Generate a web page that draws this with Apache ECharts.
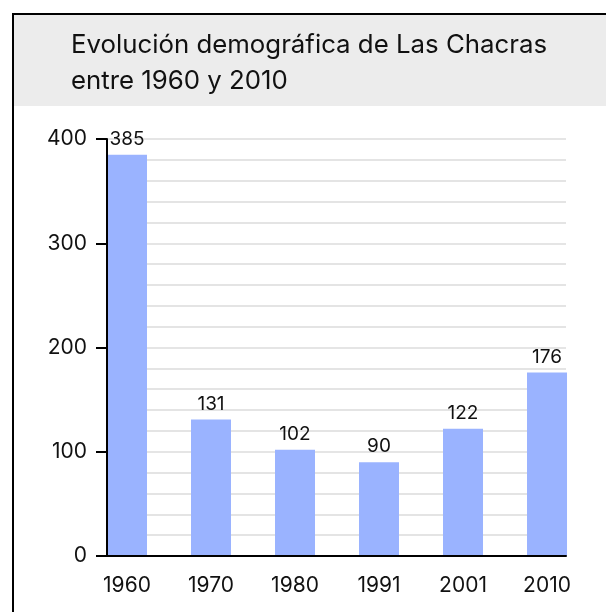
<!DOCTYPE html>
<html><head><meta charset="utf-8">
<script src="https://cdn.jsdelivr.net/npm/echarts@6/dist/echarts.min.js"></script>
<style>html,body{margin:0;padding:0;background:#fff}#c{width:606px;height:612px}</style>
</head><body><div id="c"></div>
<script>
const categories = ['1960','1970','1980','1991','2001','2010'];
const values = [385, 131, 102, 90, 122, 176];
const yTicks = [0, 100, 200, 300, 400];
const titleLines = ['Evolución demográfica de Las Chacras', 'entre 1960 y 2010'];

const font = 'Inter, "Noto Sans", sans-serif';
const chart = echarts.init(document.getElementById('c'), null, {renderer: 'canvas'});
chart.setOption({
  animation: false,
  backgroundColor: '#fff',
  graphic: [
    {type: 'rect', shape: {x: 13, y: 14, width: 700, height: 92}, style: {fill: '#ececec'}, z: -10},
    {type: 'rect', shape: {x: 13, y: 14, width: 700, height: 700}, style: {fill: null, stroke: '#000', lineWidth: 2}, z: 10},
    {type: 'text', left: 71, top: 27, style: {text: titleLines.join('\n'), font: '25.8px ' + font, fill: '#111', lineHeight: 36}}
  ],
  grid: {left: 107, right: 40, top: 139, bottom: 56},
  xAxis: {
    type: 'value', min: -0.238, max: 5.226, z: 5,
    axisLine: {show: true, onZero: false, lineStyle: {color: '#000', width: 2}},
    axisTick: {show: false},
    splitLine: {show: false},
    axisLabel: {customValues: [0,1,2,3,4,5], formatter: v => categories[Math.round(v)], fontSize: 21, color: '#111', fontFamily: font, margin: 19}
  },
  yAxis: [{
    type: 'value', min: 0, max: 400, interval: 100,
    axisLine: {show: false},
    axisTick: {show: false},
    axisLabel: {fontSize: 21, color: '#111', fontFamily: font, margin: 20},
    splitLine: {show: true, lineStyle: {color: '#dcdcdc', width: 1.5}},
    minorTick: {show: false, splitNumber: 5},
    minorSplitLine: {show: true, lineStyle: {color: '#dcdcdc', width: 1.5}}
  }, {
    type: 'value', min: 0, max: 400, interval: 100, position: 'left', offset: 0, z: 5,
    axisLine: {show: true, onZero: false, lineStyle: {color: '#000', width: 2}},
    axisTick: {show: true, inside: false, length: 11, lineStyle: {color: '#000', width: 2}},
    axisLabel: {show: false},
    splitLine: {show: false}
  }],
  series: [{
    type: 'bar', barWidth: 40, yAxisIndex: 0,
    data: values.map((v, i) => [i, v]),
    itemStyle: {color: '#9ab3ff'},
    label: {show: true, position: 'top', distance: 6, fontSize: 19, color: '#111', fontFamily: font},
    z: 3
  }]
});
</script></body></html>
